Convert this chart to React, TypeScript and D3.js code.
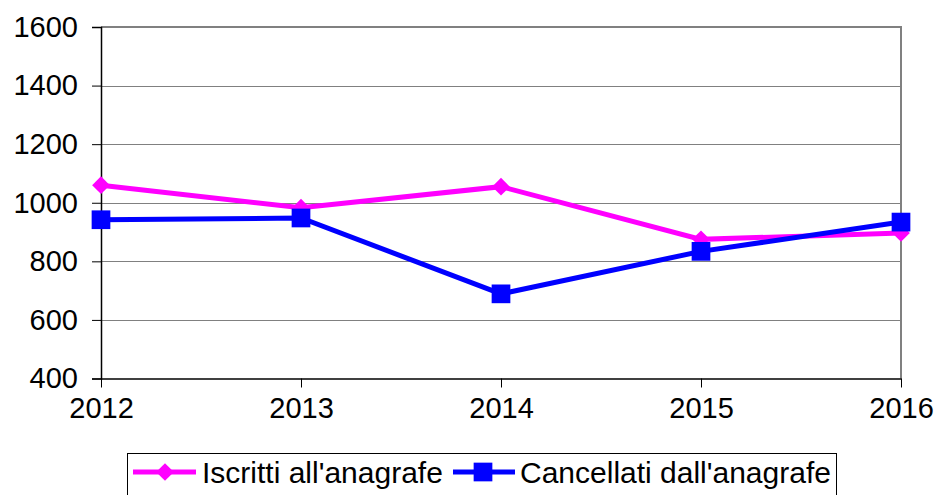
import React, { useEffect, useRef } from "react";
import * as d3 from "d3";

// values
const years = ["2012", "2013", "2014", "2015", "2016"];
const iscritti = [1060, 983, 1055, 875, 897];
const cancellati = [942, 948, 689, 834, 934];
const yTicks = [400, 600, 800, 1000, 1200, 1400, 1600];
const seriesNames = ["Iscritti all'anagrafe", "Cancellati dall'anagrafe"];

const FONT = "'Liberation Sans', Arial, sans-serif";

export default function App() {
  const ref = useRef<SVGSVGElement>(null);

  useEffect(() => {
    const svg = d3.select(ref.current);
    svg.selectAll("*").remove();

    const left = 101,
      right = 901,
      top = 27,
      bottom = 378.5;

    const x = d3.scalePoint().domain(years).range([left, right]).padding(0);
    const y = d3.scaleLinear().domain([400, 1600]).range([bottom, top]);

    // grid lines
    svg
      .append("g")
      .selectAll("line")
      .data(yTicks.filter((t) => t > 400))
      .enter()
      .append("line")
      .attr("x1", left)
      .attr("x2", right)
      .attr("y1", (d) => Math.round(y(d)) + 0.5)
      .attr("y2", (d) => Math.round(y(d)) + 0.5)
      .attr("stroke", "#808080")
      .attr("stroke-width", 1);

    // plot border top/right
    svg
      .append("path")
      .attr("d", `M${left},${y(1600)}H${right}V${bottom}`)
      .attr("fill", "none")
      .attr("stroke", "#808080")
      .attr("stroke-width", 2);

    // y axis
    const yAxis = svg
      .append("g")
      .attr("transform", `translate(${left},0)`)
      .call(d3.axisLeft(y).tickValues(yTicks).tickSize(9).tickPadding(14).tickFormat(d3.format("d")));
    yAxis.select(".domain").attr("stroke", "#000").attr("stroke-width", 1.5);
    yAxis.selectAll(".tick line").attr("stroke", "#000");
    yAxis
      .selectAll(".tick text")
      .attr("font-family", FONT)
      .attr("font-size", 29)
      .attr("fill", "#000");

    // x axis
    const xAxis = svg
      .append("g")
      .attr("transform", `translate(0,${bottom})`)
      .call(d3.axisBottom(x).tickSize(9).tickPadding(10).tickSizeOuter(0));
    xAxis.select(".domain").attr("stroke", "#000").attr("stroke-width", 1.5);
    xAxis.selectAll(".tick line").attr("stroke", "#000");
    xAxis
      .selectAll(".tick text")
      .attr("font-family", FONT)
      .attr("font-size", 29)
      .attr("fill", "#000");

    const diamond = d3.symbol().type(d3.symbolDiamond2).size(200);
    const square = d3.symbol().type(d3.symbolSquare).size(350);

    const line = d3
      .line<number>()
      .x((d, i) => x(years[i]) as number)
      .y((d) => y(d));

    const series = [
      { values: iscritti, color: "#ff00ff", sym: diamond },
      { values: cancellati, color: "#0000ff", sym: square },
    ];

    series.forEach((s) => {
      svg
        .append("path")
        .datum(s.values)
        .attr("d", line)
        .attr("fill", "none")
        .attr("stroke", s.color)
        .attr("stroke-width", 5);
      svg
        .append("g")
        .selectAll("path")
        .data(s.values)
        .enter()
        .append("path")
        .attr("d", s.sym as any)
        .attr("transform", (d, i) => `translate(${x(years[i])},${y(d)})`)
        .attr("fill", s.color);
    });

    // legend
    const legend = svg.append("g");
    legend
      .append("rect")
      .attr("x", 127.5)
      .attr("y", 453.5)
      .attr("width", 709)
      .attr("height", 60)
      .attr("fill", "#fff")
      .attr("stroke", "#000")
      .attr("stroke-width", 1);

    const legendItems = [
      { x0: 133, x1: 196, cx: 165, tx: 202 },
      { x0: 453, x1: 515, cx: 483, tx: 520 },
    ];
    legendItems.forEach((it, i) => {
      const s = series[i];
      legend
        .append("line")
        .attr("x1", it.x0)
        .attr("x2", it.x1)
        .attr("y1", 472)
        .attr("y2", 472)
        .attr("stroke", s.color)
        .attr("stroke-width", 5);
      legend
        .append("path")
        .attr("d", s.sym as any)
        .attr("transform", `translate(${it.cx},472)`)
        .attr("fill", s.color);
      legend
        .append("text")
        .attr("x", it.tx)
        .attr("y", 483)
        .attr("font-family", FONT)
        .attr("font-size", 30)
        .attr("fill", "#000")
        .text(seriesNames[i]);
    });
  }, []);

  return (
    <svg
      ref={ref}
      width={941}
      height={495}
      style={{ position: "absolute", left: 0, top: 0, background: "#fff" }}
    ></svg>
  );
}
